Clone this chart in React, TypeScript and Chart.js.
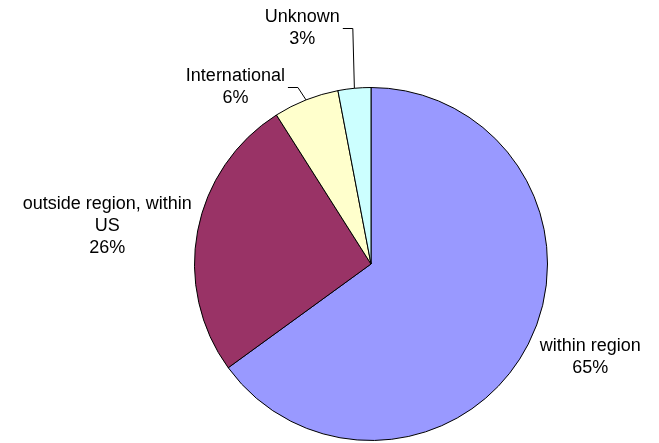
import React, { useEffect, useRef } from "react";
import { Chart, registerables } from "chart.js";

Chart.register(...registerables);

const categories = ["within region", "outside region, within US", "International", "Unknown"];
const labelLines = [["within region"], ["outside region, within", "US"], ["International"], ["Unknown"]];
const values = [65, 26, 6, 3];
const colors = ["#9999FF", "#993366", "#FFFFCC", "#CCFFFF"];

// label placement styles: angle offset (deg) from slice mid-angle, distance in radius units, leader line
const labelAngleOffset = [-4, -2.6, -15.8, -10.8];
const labelDistance = [1.35, 1.51, 1.265, 1.395];
const labelLeader = [false, false, true, true];

const FONT = "18px 'Liberation Sans', Arial, sans-serif";
const LINE_H = 22;

const labelPlugin = {
  id: "excelLabels",
  afterDatasetsDraw(chart: any) {
    const ctx = chart.ctx as CanvasRenderingContext2D;
    const meta = chart.getDatasetMeta(0);
    const total = values.reduce((a, b) => a + b, 0);
    ctx.save();
    ctx.font = FONT;
    ctx.fillStyle = "#000";
    ctx.textAlign = "center";
    ctx.textBaseline = "middle";
    meta.data.forEach((arc: any, i: number) => {
      const p = arc.getProps(["x", "y", "startAngle", "endAngle", "outerRadius"], true);
      const mid = (p.startAngle + p.endAngle) / 2;
      const a = mid + (labelAngleOffset[i] * Math.PI) / 180;
      const cx = p.x + Math.cos(a) * p.outerRadius * labelDistance[i];
      const cy = p.y + Math.sin(a) * p.outerRadius * labelDistance[i];
      const lines = [...labelLines[i], Math.round((values[i] / total) * 100) + "%"];
      const n = lines.length;
      let maxW = 0;
      lines.forEach((t, k) => {
        maxW = Math.max(maxW, ctx.measureText(t).width);
        ctx.fillText(t, cx, cy + (k - (n - 1) / 2) * LINE_H);
      });
      if (labelLeader[i]) {
        const ex = p.x + Math.cos(mid) * p.outerRadius;
        const ey = p.y + Math.sin(mid) * p.outerRadius;
        const hx0 = cx + maxW / 2 + 3;
        const hx1 = hx0 + 10;
        ctx.beginPath();
        ctx.strokeStyle = "#000";
        ctx.lineWidth = 1;
        ctx.moveTo(hx0, Math.round(cy) + 0.5);
        ctx.lineTo(hx1, Math.round(cy) + 0.5);
        ctx.lineTo(ex, ey);
        ctx.stroke();
      }
    });
    ctx.restore();
  },
};

export default function App() {
  const ref = useRef<HTMLCanvasElement | null>(null);
  useEffect(() => {
    document.body.style.margin = "0";
    if (!ref.current) return;
    const chart = new Chart(ref.current, {
      type: "pie",
      data: {
        labels: categories,
        datasets: [
          {
            data: values,
            backgroundColor: colors,
            borderColor: "#000000",
            borderWidth: 1,
            borderAlign: "center",
          },
        ],
      },
      options: {
        animation: false,
        responsive: true,
        maintainAspectRatio: false,
        events: [],
        layout: { padding: { top: 87, bottom: 2, left: 183, right: 100 } },
        plugins: {
          legend: { display: false },
          tooltip: { enabled: false },
        },
      },
      plugins: [labelPlugin],
    });
    return () => chart.destroy();
  }, []);
  return (
    <div style={{ width: 659, height: 443, position: "relative", background: "#fff" }}>
      <canvas ref={ref} />
    </div>
  );
}
